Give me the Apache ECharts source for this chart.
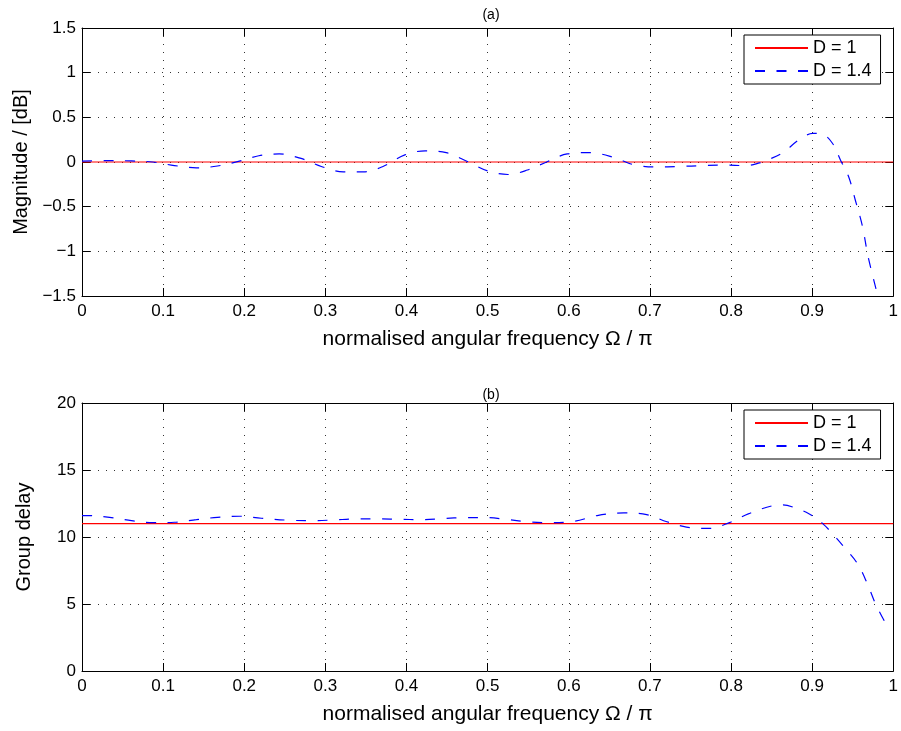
<!DOCTYPE html>
<html>
<head>
<meta charset="utf-8">
<script src="https://cdn.jsdelivr.net/npm/echarts@6/dist/echarts.min.js"></script>
<style>
  html, body { margin: 0; padding: 0; background: #fff; }
  #chart { width: 901px; height: 731px; }
</style>
</head>
<body>
<div id="chart"></div>
<script>
// Frequency axis ticks (normalised angular frequency)
const freqTicks = [0, 0.1, 0.2, 0.3, 0.4, 0.5, 0.6, 0.7, 0.8, 0.9, 1];
const magTicks = [-1.5, -1, -0.5, 0, 0.5, 1, 1.5];
const gdTicks = [0, 5, 10, 15, 20];

// Reference filter, D = 1: flat magnitude and constant group delay
const refFreq = [0, 1];
const magD1 = [0, 0];
const gdD1 = [11, 11];

// Fractional-delay filter, D = 1.4: magnitude response in dB
const magFreq = [0.000, 0.034, 0.061, 0.087, 0.114, 0.141, 0.167, 0.194, 0.218, 0.243,
  0.270, 0.295, 0.322, 0.347, 0.371, 0.398, 0.423, 0.449, 0.475, 0.500,
  0.525, 0.549, 0.574, 0.598, 0.626, 0.656, 0.680, 0.708, 0.736, 0.766,
  0.790, 0.819, 0.835, 0.847, 0.864, 0.884, 0.901, 0.913, 0.925, 0.935,
  0.945, 0.953, 0.962, 0.969, 0.981];
const magD14 = [0.01, 0.015, 0.012, 0.0, -0.04, -0.065, -0.045, 0.01, 0.07, 0.09,
  0.04, -0.05, -0.11, -0.11, -0.05, 0.08, 0.125, 0.105, 0.005, -0.1,
  -0.14, -0.09, 0.005, 0.09, 0.105, 0.05, -0.03, -0.055, -0.05, -0.04,
  -0.035, -0.04, -0.01, 0.03, 0.105, 0.25, 0.32, 0.31, 0.21, 0.02,
  -0.165, -0.42, -0.72, -1.06, -1.5];

// Fractional-delay filter, D = 1.4: group delay in samples
const gdFreq = [0.000, 0.006, 0.034, 0.061, 0.087, 0.114, 0.141, 0.167, 0.194, 0.221,
  0.255, 0.283, 0.310, 0.337, 0.365, 0.390, 0.418, 0.445, 0.472, 0.498,
  0.525, 0.551, 0.577, 0.607, 0.635, 0.668, 0.696, 0.721, 0.745, 0.773,
  0.798, 0.822, 0.852, 0.864, 0.876, 0.896, 0.913, 0.925, 0.941, 0.956,
  0.968, 0.978, 0.993];
const gdD14 = [11.6, 11.6, 11.47, 11.22, 11.07, 11.1, 11.3, 11.47, 11.55, 11.4,
  11.25, 11.22, 11.27, 11.35, 11.35, 11.32, 11.3, 11.37, 11.45, 11.45,
  11.3, 11.12, 11.07, 11.17, 11.6, 11.8, 11.67, 11.14, 10.74, 10.64,
  11.07, 11.74, 12.34, 12.39, 12.24, 11.74, 11.0, 10.25, 9.13, 8.0,
  6.52, 5.03, 3.28];

const FONT = '"Liberation Sans", Arial, Helvetica, sans-serif';
const zip = (xs, ys) => xs.map((x, i) => [x, ys[i]]);
const fmt = v => String(+v.toFixed(2)).replace('-', '\u2212');

const dotted = { show: true, lineStyle: { color: '#333', width: 1, type: [1, 7] } };
const frameLine = { show: true, onZero: false, lineStyle: { color: '#000', width: 1 } };
const innerTick = { show: true, inside: true, length: 8, lineStyle: { color: '#000', width: 1 } };

function xAxes(grid) {
  return [
    {
      type: 'value', gridIndex: grid, position: 'bottom',
      min: freqTicks[0], max: freqTicks[freqTicks.length - 1], interval: freqTicks[1] - freqTicks[0],
      axisLine: frameLine, axisTick: innerTick,
      axisLabel: { color: '#000', fontSize: 17, fontFamily: FONT, margin: 7, formatter: fmt },
      splitLine: dotted,
      name: 'normalised angular frequency \u03A9 / \u03C0', nameLocation: 'middle', nameGap: 33,
      nameTextStyle: { color: '#000', fontSize: 21, fontFamily: FONT }
    },
    {
      type: 'value', gridIndex: grid, position: 'top',
      min: freqTicks[0], max: freqTicks[freqTicks.length - 1], interval: freqTicks[1] - freqTicks[0],
      axisLine: frameLine, axisTick: innerTick, axisLabel: { show: false }, splitLine: { show: false }
    }
  ];
}

function yAxes(grid, ticks, name) {
  const base = {
    type: 'value', gridIndex: grid,
    min: ticks[0], max: ticks[ticks.length - 1], interval: ticks[1] - ticks[0]
  };
  return [
    Object.assign({}, base, {
      position: 'left',
      axisLine: frameLine, axisTick: innerTick,
      axisLabel: { color: '#000', fontSize: 17, fontFamily: FONT, margin: 6, formatter: fmt },
      splitLine: dotted,
      name: name, nameLocation: 'middle', nameGap: 48, nameRotate: 90,
      nameTextStyle: { color: '#000', fontSize: 20, fontFamily: FONT }
    }),
    Object.assign({}, base, {
      position: 'right',
      axisLine: frameLine, axisTick: innerTick, axisLabel: { show: false }, splitLine: { show: false }
    })
  ];
}

function legendBox(top) {
  return {
    left: 744, top: top, orient: 'vertical',
    data: ['D = 1', 'D = 1.4'],
    itemWidth: 53, itemHeight: 14, itemGap: 5,
    padding: [4, 9, 4, 10],
    backgroundColor: '#fff', borderColor: '#000', borderWidth: 1, borderRadius: 0,
    itemStyle: { opacity: 0, borderWidth: 0 },
    textStyle: { color: '#000', fontSize: 18, fontFamily: FONT },
    selectedMode: false
  };
}

const redLine = { color: '#ff0000', width: 1.2, type: 'solid' };
const blueLine = { color: '#0000ff', width: 1.2, type: [10, 11.5] };

const titleStyle = { fontSize: 14, fontWeight: 'normal', color: '#000', fontFamily: FONT };

const option = {
  animation: false,
  backgroundColor: '#fff',
  title: [
    { text: '(a)', left: 486, top: 3, textAlign: 'center', textStyle: titleStyle },
    { text: '(b)', left: 486, top: 383, textAlign: 'center', textStyle: titleStyle }
  ],
  grid: [
    { left: 82, top: 28, width: 815, height: 268 },
    { left: 82, top: 403, width: 815, height: 268 }
  ],
  legend: [legendBox(35), legendBox(410)],
  xAxis: xAxes(0).concat(xAxes(1)),
  yAxis: yAxes(0, magTicks, 'Magnitude / [dB]').concat(yAxes(1, gdTicks, 'Group delay')),
  series: [
    { name: 'D = 1', type: 'line', xAxisIndex: 0, yAxisIndex: 0, data: zip(refFreq, magD1),
      symbol: 'none', lineStyle: redLine, itemStyle: { color: '#ff0000' } },
    { name: 'D = 1.4', type: 'line', xAxisIndex: 0, yAxisIndex: 0, data: zip(magFreq, magD14),
      symbol: 'none', smooth: 0.35, clip: true, lineStyle: blueLine, itemStyle: { color: '#0000ff' } },
    { name: 'D = 1', type: 'line', xAxisIndex: 2, yAxisIndex: 2, data: zip(refFreq, gdD1),
      symbol: 'none', lineStyle: redLine, itemStyle: { color: '#ff0000' } },
    { name: 'D = 1.4', type: 'line', xAxisIndex: 2, yAxisIndex: 2, data: zip(gdFreq, gdD14),
      symbol: 'none', smooth: 0.35, clip: true, lineStyle: blueLine, itemStyle: { color: '#0000ff' } }
  ]
};

const chart = echarts.init(document.getElementById('chart'), null, { renderer: 'canvas' });
chart.setOption(option);
</script>
</body>
</html>
